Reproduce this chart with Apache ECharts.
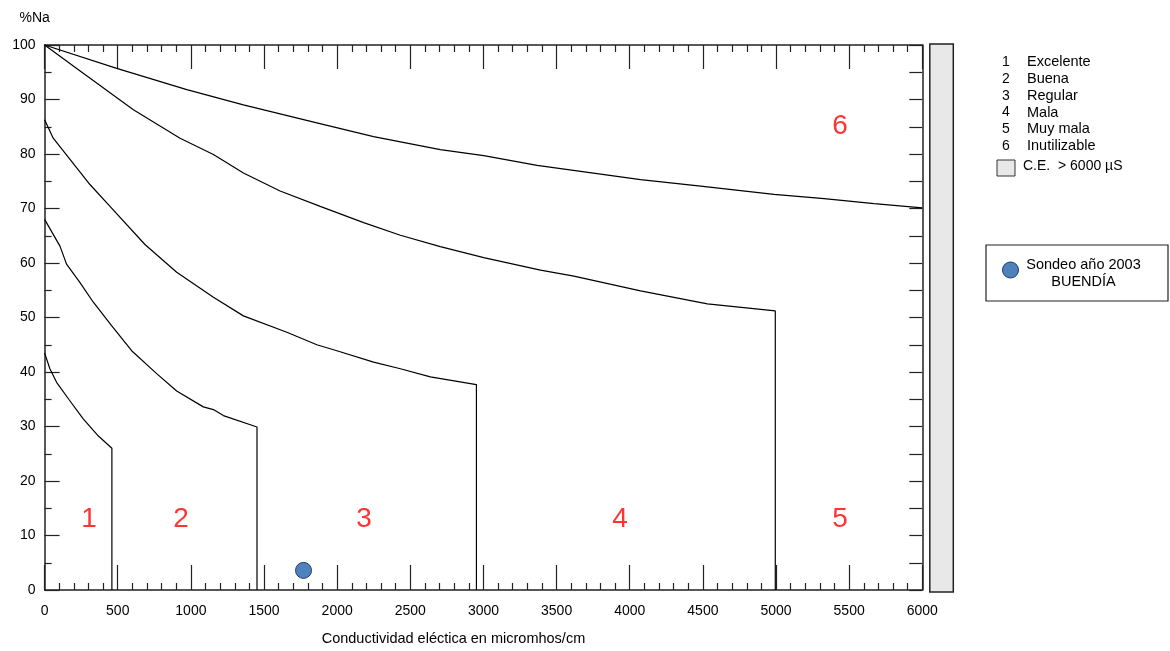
<!DOCTYPE html>
<html>
<head>
<meta charset="utf-8">
<script src="https://cdn.jsdelivr.net/npm/echarts@6/dist/echarts.min.js"></script>
<style>
html,body{margin:0;padding:0;background:#fff;}
#chart{width:1170px;height:651px;}
</style>
</head>
<body>
<div id="chart"></div>
<script>
// ---- Data ----
const curve1X = [0, 36, 82, 165, 264, 362, 460, 460];
const curve1Y = [43.5, 40.6, 38.1, 35.0, 31.4, 28.4, 26.0, 0];

const curve2X = [0, 105, 150, 242, 333, 458, 595, 766, 903, 1085, 1154, 1222, 1452, 1452];
const curve2Y = [68, 63.1, 59.8, 56.4, 52.8, 48.5, 43.9, 39.7, 36.5, 33.6, 33.1, 32.0, 29.9, 0];

const curve3X = [0, 59, 310, 447, 686, 903, 1154, 1359, 1656, 1861, 1998, 2249, 2432, 2637, 2952, 2952];
const curve3Y = [86.3, 82.9, 74.4, 70.4, 63.4, 58.3, 53.7, 50.3, 47.3, 45.0, 43.9, 41.8, 40.6, 39.1, 37.7, 0];

const curve4X = [0, 264, 607, 926, 1154, 1359, 1610, 1884, 2181, 2432, 2705, 3002, 3390, 3618, 4074, 4531, 4995, 4995];
const curve4Y = [100, 94.8, 88.1, 82.9, 79.9, 76.5, 73.2, 70.4, 67.4, 65.1, 63.0, 61.0, 58.7, 57.6, 54.9, 52.5, 51.2, 0];

const curve5X = [0, 493, 972, 1359, 1861, 2249, 2705, 3002, 3367, 4074, 4485, 4986, 5329, 5671, 6000];
const curve5Y = [100, 95.7, 91.8, 89.0, 85.7, 83.2, 80.8, 79.7, 77.9, 75.3, 74.1, 72.6, 71.8, 70.9, 70.1];

const sampleName = 'Sondeo año 2003';
const sampleSite = 'BUENDÍA';
const sampleX = [1770];
const sampleY = [3.6];

const zoneNums = ['1', '2', '3', '4', '5', '6'];
const zoneNames = ['Excelente', 'Buena', 'Regular', 'Mala', 'Muy mala', 'Inutilizable'];
const zoneLabelX = [303, 932, 2183, 3933, 5437, 5437];
const zoneLabelY = [13, 13, 13, 13, 13, 85];

const xTickLabels = ['0','500','1000','1500','2000','2500','3000','3500','4000','4500','5000','5500','6000'];
const yTickLabels = ['0','10','20','30','40','50','60','70','80','90','100'];
const xTitle = 'Conductividad eléctica en micromhos/cm';
const yTitle = '%Na';
const ceText = 'C.E.  > 6000 µS';

// ---- Layout ----
const FONT = '"Liberation Sans", Arial, sans-serif';
const G = {left: 44.6, top: 45, width: 877.7, height: 547};

function zip(xs, ys){ return xs.map((x,i)=>[x, ys[i]]); }
const curves = [[curve1X,curve1Y],[curve2X,curve2Y],[curve3X,curve3Y],[curve4X,curve4Y],[curve5X,curve5Y]];

const lineSeries = curves.map((c, i) => ({
  type: 'line',
  name: 'limite' + (i+1),
  data: zip(c[0], c[1]),
  showSymbol: false,
  symbol: 'none',
  lineStyle: {color: '#000', width: 1.2},
  silent: true,
  z: 3
}));

const axisLineStyle = {color: '#222', width: 1.5};
const tickStyle = {color: '#222', width: 1.2};

const chart = echarts.init(document.getElementById('chart'), null, {renderer: 'canvas'});

const legendX = 1006, legendNameX = 1027, legendY0 = 62.3, legendStep = 16.75;
const graphics = [];
// gray bar C.E. > 6000
graphics.push({
  type: 'rect', shape: {x: G.left + G.width + 7.5, y: G.top - 1, width: 23.5, height: G.height + 1},
  style: {fill: '#e8e8e8', stroke: '#222', lineWidth: 1.5}, z: 10
});
zoneNums.forEach((n, i) => {
  graphics.push({type: 'text', x: legendX, y: legendY0 + i*legendStep,
    style: {text: n, font: '14px ' + FONT, fill: '#000', align: 'center', verticalAlign: 'middle'}});
  graphics.push({type: 'text', x: legendNameX, y: legendY0 + i*legendStep,
    style: {text: zoneNames[i], font: '14.5px ' + FONT, fill: '#000', align: 'left', verticalAlign: 'middle'}});
});
graphics.push({type: 'rect', shape: {x: 997, y: 160, width: 18, height: 16},
  style: {fill: '#e8e8e8', stroke: '#333', lineWidth: 1}});
graphics.push({type: 'text', x: 1023, y: 166,
  style: {text: ceText, font: '14px ' + FONT, fill: '#000', align: 'left', verticalAlign: 'middle'}});
// sample legend box
graphics.push({type: 'rect', shape: {x: 986, y: 245, width: 182, height: 56},
  style: {fill: '#fff', stroke: '#222', lineWidth: 1.2}});
graphics.push({type: 'circle', shape: {cx: 1010.5, cy: 270, r: 8},
  style: {fill: '#4f81bd', stroke: '#1f3b6e', lineWidth: 1}});
graphics.push({type: 'text', x: 1083.5, y: 265,
  style: {text: sampleName, font: '14.5px ' + FONT, fill: '#000', align: 'center', verticalAlign: 'middle'}});
graphics.push({type: 'text', x: 1083.5, y: 282,
  style: {text: sampleSite, font: '14.5px ' + FONT, fill: '#000', align: 'center', verticalAlign: 'middle'}});

const option = {
  animation: false,
  backgroundColor: '#fff',
  textStyle: {fontFamily: FONT},
  grid: {left: G.left, top: G.top, width: G.width, height: G.height, containLabel: false},
  xAxis: [
    {
      type: 'value', position: 'bottom', min: 0, max: 6000, interval: 500,
      name: xTitle, nameLocation: 'middle', nameGap: 41,
      nameTextStyle: {fontSize: 14.5, color: '#000', fontFamily: FONT, align: 'center', padding: [0, 60, 0, 0]},
      axisLine: {show: true, onZero: false, lineStyle: axisLineStyle},
      axisTick: {show: true, inside: true, length: 25, lineStyle: tickStyle},
      minorTick: {show: true, splitNumber: 5, length: 7, lineStyle: tickStyle},
      axisLabel: {fontSize: 14, color: '#000', margin: 14, fontFamily: FONT,
        formatter: (v) => xTickLabels[Math.round(v/500)]},
      splitLine: {show: false}
    },
    {
      type: 'value', position: 'top', min: 0, max: 6000, interval: 500,
      axisLine: {show: true, onZero: false, lineStyle: axisLineStyle},
      axisTick: {show: true, inside: true, length: 24, lineStyle: tickStyle},
      minorTick: {show: true, splitNumber: 5, length: 7, lineStyle: tickStyle},
      axisLabel: {show: false},
      splitLine: {show: false}
    }
  ],
  yAxis: [
    {
      type: 'value', position: 'left', min: 0, max: 100, interval: 10,
      name: yTitle, nameLocation: 'end', nameGap: 20,
      nameTextStyle: {fontSize: 14, color: '#000', fontFamily: FONT, align: 'center', padding: [0, 20, 0, 0]},
      axisLine: {show: true, onZero: false, lineStyle: axisLineStyle},
      axisTick: {show: true, inside: true, length: 15, lineStyle: tickStyle},
      minorTick: {show: true, splitNumber: 2, length: 7, lineStyle: tickStyle},
      axisLabel: {fontSize: 14, color: '#000', margin: 9, fontFamily: FONT,
        formatter: (v) => yTickLabels[Math.round(v/10)]},
      splitLine: {show: false}
    },
    {
      type: 'value', position: 'right', min: 0, max: 100, interval: 5,
      axisLine: {show: true, onZero: false, lineStyle: axisLineStyle},
      axisTick: {show: true, inside: true, length: 13, lineStyle: tickStyle},
      axisLabel: {show: false},
      splitLine: {show: false}
    }
  ],
  series: lineSeries.concat([
    {
      type: 'scatter',
      name: 'zonas',
      data: zoneNums.map((n, i) => ({name: n, value: [zoneLabelX[i], zoneLabelY[i]]})),
      symbolSize: 0,
      silent: true,
      label: {show: true, position: 'inside', formatter: '{b}', color: '#ff0000',
        fontSize: 28, fontFamily: FONT},
      z: 4
    },
    {
      type: 'scatter',
      name: sampleName + ' ' + sampleSite,
      data: zip(sampleX, sampleY),
      symbol: 'circle',
      symbolSize: 16,
      itemStyle: {color: '#4f81bd', borderColor: '#1f3b6e', borderWidth: 1, opacity: 1},
      z: 5
    }
  ]),
  graphic: graphics
};
chart.setOption(option);
</script>
</body>
</html>
